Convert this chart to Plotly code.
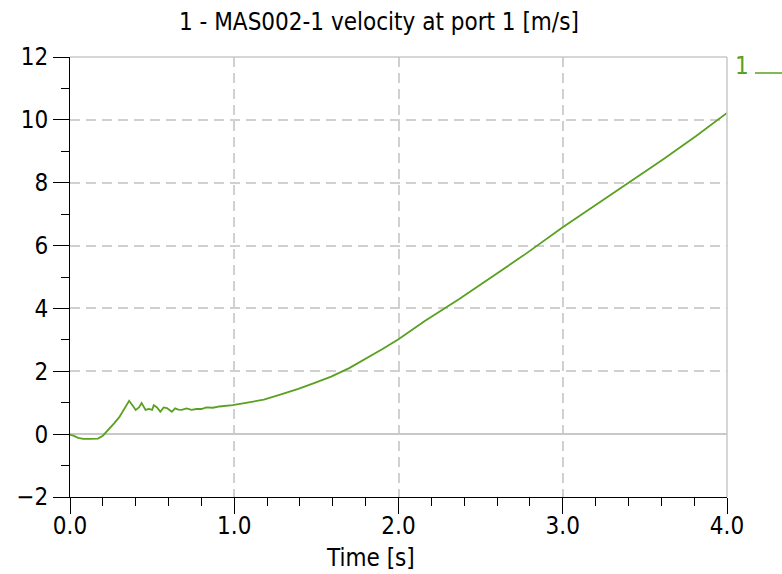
import plotly.graph_objects as go

t = [0, 0.02, 0.05, 0.08, 0.12, 0.17, 0.20, 0.24, 0.27, 0.30, 0.335, 0.36, 0.38, 0.40,
     0.42, 0.436, 0.46, 0.48, 0.50, 0.51, 0.53, 0.55, 0.57, 0.59, 0.62, 0.64, 0.66, 0.68,
     0.71, 0.74, 0.77, 0.80, 0.83, 0.87, 0.91, 0.95, 0.99, 1.08, 1.18, 1.28, 1.39, 1.49,
     1.59, 1.70, 1.80, 1.90, 2.00, 2.16, 2.37, 2.57, 2.77, 3.00, 3.20, 3.39, 3.61, 3.81, 4.0]
v = [-0.02, -0.05, -0.12, -0.15, -0.15, -0.14, -0.05, 0.16, 0.35, 0.54, 0.86, 1.06, 0.92, 0.77,
     0.85, 0.99, 0.77, 0.80, 0.77, 0.92, 0.85, 0.71, 0.85, 0.83, 0.71, 0.82, 0.78, 0.77,
     0.82, 0.77, 0.80, 0.80, 0.85, 0.84, 0.88, 0.90, 0.92, 1.00, 1.10, 1.26, 1.44, 1.63,
     1.83, 2.10, 2.39, 2.70, 3.02, 3.60, 4.30, 5.00, 5.72, 6.58, 7.29, 7.94, 8.74, 9.48, 10.22]

x_ticks = [0, 1, 2, 3, 4]
x_ticklabels = ["0.0", "1.0", "2.0", "3.0", "4.0"]
y_ticks = [-2, 0, 2, 4, 6, 8, 10, 12]

title_text = "1 - MAS002-1 velocity at port 1 [m/s]"
x_title = "Time [s]"
series_name = "1"

green = "#5aa021"
FONT = "DejaVu Sans Condensed, sans-serif"
FS = 24

fig = go.Figure()
fig.add_trace(go.Scatter(x=t, y=v, mode="lines", line=dict(color=green, width=1.8),
                         name=series_name, showlegend=False))

fig.update_layout(
    width=782, height=574,
    margin=dict(l=70, r=55, t=57, b=77),
    paper_bgcolor="white", plot_bgcolor="white",
    font=dict(family=FONT, size=FS, color="black"),
    xaxis=dict(range=[0, 4], tickvals=x_ticks, ticktext=x_ticklabels,
               ticks="outside", ticklen=16, tickcolor="black", tickwidth=1,
               ticklabelstandoff=-9,
               showline=True, linecolor="black", linewidth=1,
               showgrid=True, gridcolor="#d0d0d0", griddash="10px,6px", gridwidth=1.5,
               zeroline=False,
               minor=dict(dtick=0.2, ticks="outside", ticklen=8, tickcolor="black", showgrid=False),
               tickfont=dict(size=FS)),
    yaxis=dict(range=[-2, 12], tickvals=y_ticks,
               ticks="outside", ticklen=16, tickcolor="black", tickwidth=1,
               showline=True, linecolor="black", linewidth=1,
               showgrid=True, gridcolor="#d0d0d0", griddash="10px,6px", gridwidth=1.5,
               zeroline=True, zerolinecolor="#c8c8c8", zerolinewidth=1.5,
               minor=dict(dtick=1, ticks="outside", ticklen=8, tickcolor="black", showgrid=False),
               tickfont=dict(size=FS)),
    shapes=[
        dict(type="line", xref="x domain", yref="y domain", x0=0, x1=1, y0=1, y1=1,
             line=dict(color="#c8c8c8", width=1.5)),
        dict(type="line", xref="x domain", yref="y domain", x0=1, x1=1, y0=0, y1=1,
             line=dict(color="#c8c8c8", width=1.5)),
        dict(type="line", xref="paper", yref="paper", x0=(755-70)/657, x1=(782-70)/657,
             y0=(497-73)/440, y1=(497-73)/440, line=dict(color=green, width=1.5)),
    ],
    annotations=[
        dict(text=title_text, xref="paper", yref="paper", x=(379-70)/657, y=(497-22)/440,
             xanchor="center", yanchor="middle", showarrow=False, font=dict(size=FS)),
        dict(text=x_title, xref="paper", yref="paper", x=(370-70)/657, y=(497-558)/440,
             xanchor="center", yanchor="middle", showarrow=False, font=dict(size=FS)),
        dict(text=series_name, xref="paper", yref="paper", x=(742-70)/657, y=(497-66)/440,
             xanchor="center", yanchor="middle", showarrow=False,
             font=dict(size=FS, color=green)),
    ],
)

fig.write_html("out.html")
